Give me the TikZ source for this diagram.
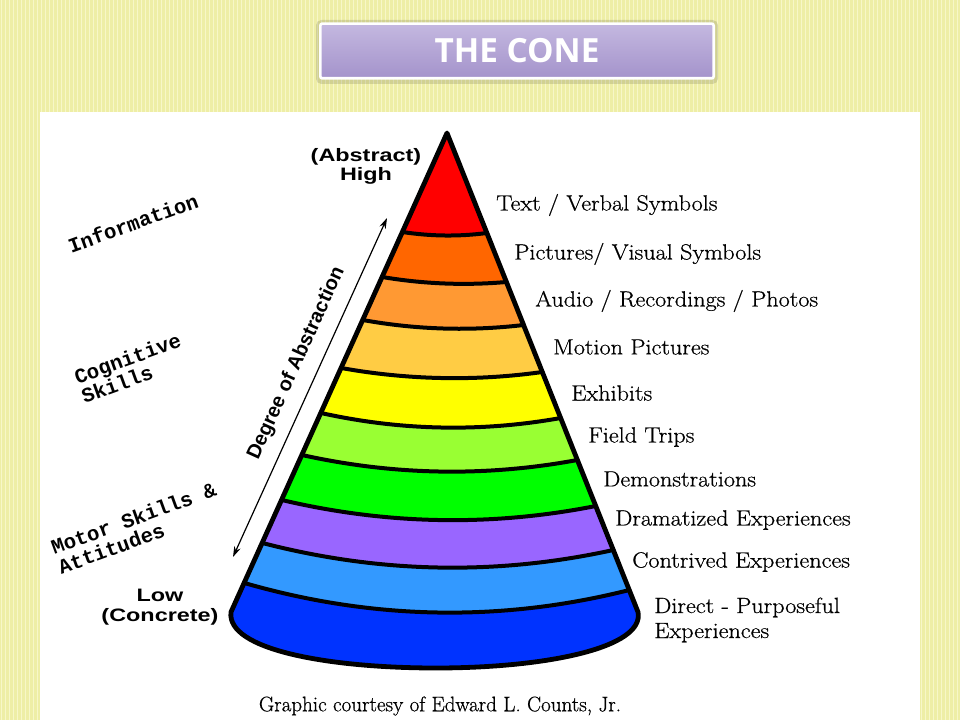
\documentclass[tikz,border=0pt]{standalone}
\usepackage{fontspec}
\usepackage{graphicx}
\usetikzlibrary{arrows.meta}
\newfontfamily\lsans{Liberation Sans}
\newfontfamily\lmono{Liberation Mono}
\newfontfamily\titlefont{Open Sans}
\newfontfamily\schl{Latin Modern Roman}[FakeBold=0.6]
\definecolor{bgyellow}{HTML}{EEEEA6}
\definecolor{stripecol}{HTML}{F7F7C8}
\definecolor{cRed}{HTML}{FF0000}
\definecolor{cOrange}{HTML}{FF6600}
\definecolor{cLOrange}{HTML}{FF9933}
\definecolor{cGold}{HTML}{FFCC44}
\definecolor{cYellow}{HTML}{FFFF00}
\definecolor{cLGreen}{HTML}{99FF33}
\definecolor{cGreen}{HTML}{00FF00}
\definecolor{cPurple}{HTML}{9966FF}
\definecolor{cLBlue}{HTML}{3399FF}
\definecolor{cBlue}{HTML}{0033FF}
\definecolor{titletop}{HTML}{C4B8E0}
\definecolor{titlebot}{HTML}{A493CB}
\newcommand\wide[1]{\scalebox{1.1}[1]{#1}}
\tikzset{
  bandline/.style={line width=3pt, line cap=round},
  conestroke/.style={line width=3.6pt, line join=round},
  rlabel/.style={anchor=west, inner sep=0pt, font=\schl\fontsize{16.5}{18.75}\selectfont},
  monolabel/.style={inner sep=0pt, font=\lmono\bfseries\fontsize{15.5}{15.5}\selectfont, align=left, rotate=20},
  boldlabel/.style={inner sep=0pt, font=\lsans\bfseries\fontsize{13.5}{15}\selectfont},
  titlebox/.style={draw=white, line width=2pt, top color=titletop, bottom color=titlebot,
     minimum width=295pt, minimum height=41pt, rounded corners=1.5pt,
     text=white, font=\titlefont\bfseries\fontsize{25}{25}\selectfont},
}
\begin{document}
\begin{tikzpicture}[x=0.75pt,y=-0.75pt]
\useasboundingbox (0,0) rectangle (960,720);
% background
\fill[bgyellow] (0,0) rectangle (960,720);
\foreach \i in {1,5,...,957} \fill[stripecol] (\i,0) rectangle (\i+1.4,720);
\fill[white] (40,112) rectangle (920,720);
% title
\fill[black,opacity=0.12,rounded corners=4pt] (316,20) rectangle (718,84);
\node[titlebox] (title) at (517,51) {THE CONE};
% cone coordinates
\coordinate (A) at (447,133);
\coordinate (L1) at (402.4,232); \coordinate (R1) at (486.9,233);
\coordinate (L2) at (382.2,277); \coordinate (R2) at (506.4,282);
\coordinate (L3) at (362.8,320); \coordinate (R3) at (523.6,325);
\coordinate (L4) at (341.2,368); \coordinate (R4) at (542.3,372);
\coordinate (L5) at (321.0,413); \coordinate (R5) at (560.7,418);
\coordinate (L6) at (302.0,455); \coordinate (R6) at (577.4,460);
\coordinate (L7) at (281.8,500); \coordinate (R7) at (595.8,506);
\coordinate (L8) at (262.4,543); \coordinate (R8) at (613.3,550);
\coordinate (L9) at (244.4,583); \coordinate (R9) at (629.3,590);
\coordinate (BL) at (231,612); \coordinate (BR) at (638,612);
\coordinate (BM) at (436,668);
% fills
\fill[cBlue] (A) -- (BL) .. controls (226,650) and (330,668) .. (BM) .. controls (545,668) and (645,648) .. (BR) -- cycle;
\fill[cLBlue] (A) -- (L9) .. controls (372.7,620) and (501,622.3) .. (R9) -- cycle;
\fill[cPurple] (A) -- (L8) .. controls (379.4,573.3) and (496.3,575.7) .. (R8) -- cycle;
\fill[cGreen] (A) -- (L7) .. controls (386.5,524.7) and (491.1,526.7) .. (R7) -- cycle;
\fill[cLGreen] (A) -- (L6) .. controls (393.8,475.4) and (485.6,477) .. (R6) -- cycle;
\fill[cYellow] (A) -- (L5) .. controls (400.9,430.7) and (480.8,432.3) .. (R5) -- cycle;
\fill[cGold] (A) -- (L4) .. controls (408.2,380) and (475.3,381.4) .. (R4) -- cycle;
\fill[cLOrange] (A) -- (L3) .. controls (416.4,329.7) and (470,331.3) .. (R3) -- cycle;
\fill[cOrange] (A) -- (L2) .. controls (423.6,284) and (465,285.6) .. (R2) -- cycle;
\fill[cRed] (A) -- (L1) .. controls (430.6,236.3) and (458.7,236.7) .. (R1) -- cycle;
% band boundaries
\draw[bandline] (L1) .. controls (430.6,236.3) and (458.7,236.7) .. (R1);
\draw[bandline] (L2) .. controls (423.6,284) and (465,285.6) .. (R2);
\draw[bandline] (L3) .. controls (416.4,329.7) and (470,331.3) .. (R3);
\draw[bandline] (L4) .. controls (408.2,380) and (475.3,381.4) .. (R4);
\draw[bandline] (L5) .. controls (400.9,430.7) and (480.8,432.3) .. (R5);
\draw[bandline] (L6) .. controls (393.8,475.4) and (485.6,477) .. (R6);
\draw[bandline] (L7) .. controls (386.5,524.7) and (491.1,526.7) .. (R7);
\draw[bandline] (L8) .. controls (379.4,573.3) and (496.3,575.7) .. (R8);
\draw[bandline] (L9) .. controls (372.7,620) and (501,622.3) .. (R9);
% outline
\draw[conestroke] (A) -- (BL) .. controls (226,650) and (330,668) .. (BM) .. controls (545,668) and (645,648) .. (BR) -- cycle;
% right labels
\node[rlabel] (t1) at (496,205) {\wide{Text / Verbal Symbols}};
\node[rlabel] (t2) at (514,254) {\wide{Pictures/ Visual Symbols}};
\node[rlabel] (t3) at (535,301) {\wide{Audio / Recordings / Photos}};
\node[rlabel] (t4) at (553,347) {\wide{Motion Pictures}};
\node[rlabel] (t5) at (571,393) {\wide{Exhibits}};
\node[rlabel] (t6) at (588,437) {\wide{Field Trips}};
\node[rlabel] (t7) at (603,479) {\wide{Demonstrations}};
\node[rlabel] (t8) at (615,520) {\wide{Dramatized Experiences}};
\node[rlabel] (t9) at (632,562) {\wide{Contrived Experiences}};
\node[rlabel] (t10) at (654,620.5) {\wide{\begin{tabular}{@{}l@{}}Direct - Purposeful\\Experiences\end{tabular}}};
% left labels
\node[boldlabel] (high) at (366,167) {\scalebox{1.3}[1]{\begin{tabular}{@{}c@{}}(Abstract)\\[-0.5pt]High\end{tabular}}};
\node[boldlabel] (low) at (160,607.5) {\scalebox{1.3}[1]{\begin{tabular}{@{}c@{}}Low\\[-0.5pt](Concrete)\end{tabular}}};
\node[monolabel] (info) at (133,223) {Information};
\node[monolabel] (cog) at (131,368) {Cognitive\\Skills};
\node[monolabel] (motor) at (137,528) {Motor Skills \&\\Attitudes};
% degree of abstraction
\coordinate (arrTop) at (387,218);
\coordinate (arrBot) at (233,557);
\draw[line width=0.9pt, {Stealth[length=8pt,width=5pt]}-{Stealth[length=8pt,width=5pt]}] (arrBot) -- (arrTop);
\node[inner sep=0pt, rotate=65.6, font=\lsans\bfseries\fontsize{15}{15}\selectfont] (deg) at (296.5,363.5) {Degree of Abstraction};
% caption
\node[inner sep=0pt, font=\schl\fontsize{15.8}{15.8}\selectfont] (cap) at (440,706) {Graphic courtesy of Edward L. Counts, Jr.};
\end{tikzpicture}
\end{document}
